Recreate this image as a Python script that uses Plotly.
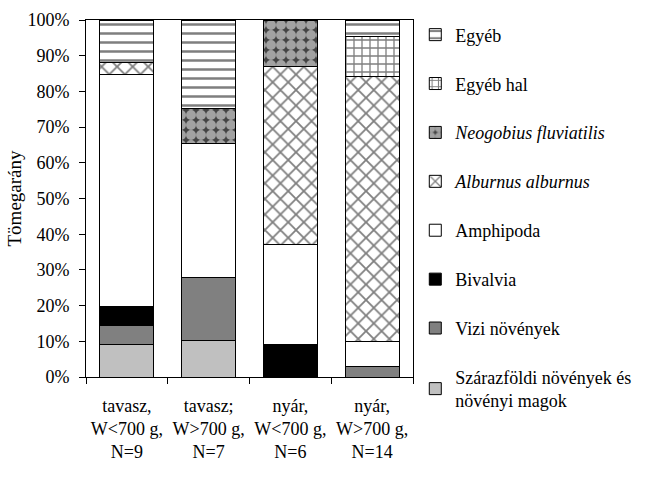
import plotly.graph_objects as go

categories = ["tavasz,<br>W&lt;700 g,<br>N=9", "tavasz;<br>W&gt;700 g,<br>N=7",
              "nyár,<br>W&lt;700 g,<br>N=6", "nyár,<br>W&gt;700 g,<br>N=14"]

szarazfoldi = [0.092, 0.101, 0.0, 0.0]
vizi = [0.051, 0.178, 0.0, 0.029]
bivalvia = [0.054, 0.0, 0.092, 0.0]
amphipoda = [0.650, 0.374, 0.280, 0.070]
alburnus = [0.035, 0.0, 0.497, 0.742]
neogobius = [0.0, 0.100, 0.131, 0.0]
egyeb_hal = [0.0, 0.0, 0.0, 0.114]
egyeb = [0.118, 0.247, 0.0, 0.045]

series = [
    ("Szárazföldi növények és<br>növényi magok", szarazfoldi, dict(color="#c0c0c0")),
    ("Vizi növények", vizi, dict(color="#808080")),
    ("Bivalvia", bivalvia, dict(color="#000000")),
    ("Amphipoda", amphipoda, dict(color="#ffffff")),
    ("<i>Alburnus alburnus</i>", alburnus,
     dict(color="#ffffff", pattern=dict(shape="x", fgcolor="#000000", bgcolor="#ffffff", size=11, solidity=0.3))),
    ("<i>Neogobius fluviatilis</i>", neogobius,
     dict(color="#ffffff", pattern=dict(shape=".", fgcolor="#ffffff", bgcolor="#444444", size=10, solidity=0.78))),
    ("Egyéb hal", egyeb_hal,
     dict(color="#ffffff", pattern=dict(shape="+", fgcolor="#000000", bgcolor="#ffffff", size=8, solidity=0.3))),
    ("Egyéb", egyeb,
     dict(color="#ffffff", pattern=dict(shape="-", fgcolor="#000000", bgcolor="#ffffff", size=9, solidity=0.28))),
]

fig = go.Figure()
n = len(series)
for i, (name, vals, mk) in enumerate(series):
    mk = dict(mk)
    mk["line"] = dict(color="#000000", width=1)
    fig.add_trace(go.Bar(x=categories, y=vals, name=name, marker=mk,
                         legendgroup=str(i), legendrank=n - i))

fig.update_layout(
    barmode="stack",
    bargap=0.34,
    width=646, height=480,
    margin=dict(l=86, r=233, t=20, b=103, autoexpand=False),
    paper_bgcolor="white", plot_bgcolor="white",
    font=dict(family="Liberation Serif", size=18, color="#000000"),
    legend=dict(x=1.007, xanchor="left", y=1.01, yanchor="top",
                tracegroupgap=22.5, bgcolor="rgba(0,0,0,0)", maxheight=470,
                font=dict(family="Liberation Serif", size=18)),
    xaxis=dict(type="category", showline=True, linecolor="#000000", linewidth=1,
               mirror=True, ticks="outside", tickson="boundaries", ticklen=6,
               tickcolor="#000000", showgrid=False, ticklabelstandoff=12),
    yaxis=dict(range=[0, 1], dtick=0.1, tickformat=".0%", showline=True,
               linecolor="#000000", linewidth=1, mirror=True, ticks="outside",
               ticklen=6, tickcolor="#000000", showgrid=False, zeroline=False,
               ticklabelstandoff=6,
               title=dict(text="Tömegarány", standoff=0,
                          font=dict(family="Liberation Serif", size=19))),
    showlegend=True,
)

fig.write_html("out.html", config={"displayModeBar": False},
               post_script="document.body.style.margin='0';")
